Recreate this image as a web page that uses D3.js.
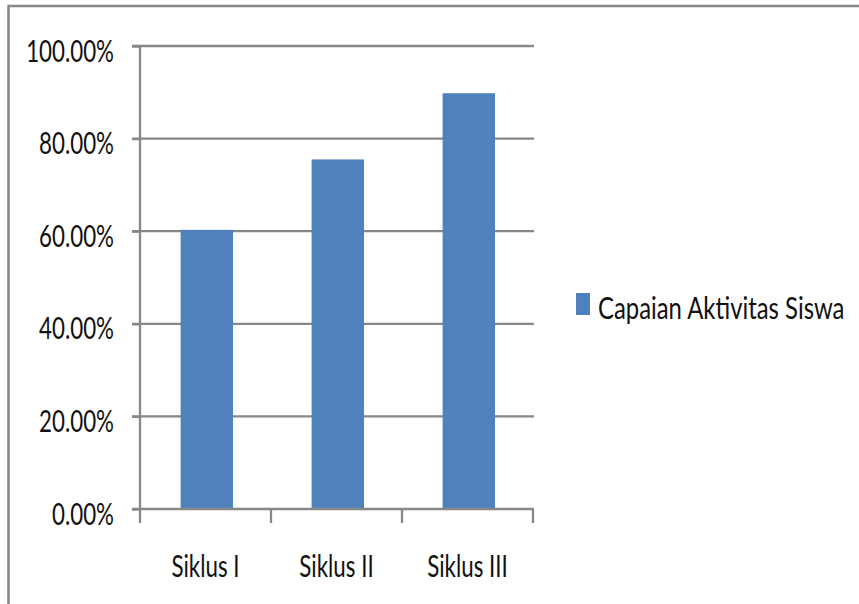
<!DOCTYPE html>
<html>
<head>
<meta charset="utf-8">
<script src="https://cdn.jsdelivr.net/npm/d3@7"></script>
<style>
    body { margin: 0; background: #fff; }
    svg text { font-family: Lato, 'Open Sans', sans-serif; fill: #111; }
</style>
</head>
<body>
<script>
// data
const categories = ['Siklus I', 'Siklus II', 'Siklus III'];
const values = [0.603, 0.755, 0.898];
const seriesName = 'Capaian Aktivitas Siswa';
const yTicks = [0, 0.2, 0.4, 0.6, 0.8, 1.0];

const width = 859, height = 604;
const axisColor = '#878787';
const barColor = '#4f81bd';
const fontSize = 31;
const squeeze = 0.72; // text in the picture is horizontally narrow

let svg = d3.select('body').append('svg')
    .attr('width', width)
    .attr('height', height);

// outer frame (only top and left edges are visible)
svg.append('rect')
    .attr('x', 8.5).attr('y', 6)
    .attr('width', width + 20).attr('height', height + 20)
    .attr('fill', 'none')
    .attr('stroke', axisColor)
    .attr('stroke-width', 2.5);

let X = d3.scaleBand()
    .domain(categories)
    .range([140, 533])
    .padding(0);
let Y = d3.scaleLinear()
    .domain([0, 1])
    .range([509, 46]);

// grid
svg.append('g').attr('class', 'y-grid')
    .selectAll('line').data(yTicks.slice(1)).join('line')
        .attr('x1', 132)
        .attr('x2', 534)
        .attr('y1', d => Y(d))
        .attr('y2', d => Y(d))
        .attr('stroke', axisColor)
        .attr('stroke-width', 2.3);

// bars
svg.append('g').attr('class', 'bars')
    .selectAll('rect').data(categories).join('rect')
        .attr('x', d => X(d) + X.bandwidth() * 0.31)
        .attr('width', X.bandwidth() * 0.4)
        .attr('y', (d, i) => Y(values[i]))
        .attr('height', (d, i) => Y(0) - Y(values[i]))
        .attr('fill', barColor);

// y axis
let yAxis = d3.axisLeft(Y)
    .tickValues(yTicks)
    .tickSize(8)
    .tickFormat(d3.format('.2%'));
let gy = svg.append('g').attr('class', 'y-axis')
    .attr('transform', 'translate(140,0)')
    .call(yAxis);
gy.select('.domain').remove();
gy.append('line')
    .attr('y1', Y(1)).attr('y2', Y(0) + 1)
    .attr('stroke', axisColor).attr('stroke-width', 2.3);
gy.selectAll('.tick line').attr('stroke', axisColor).attr('stroke-width', 2.3);
gy.selectAll('.tick text')
    .attr('x', null).attr('dy', null)
    .attr('font-size', fontSize)
    .attr('text-anchor', 'end')
    .attr('transform', `translate(-26,15) scale(${squeeze},1)`);

// x axis
let xAxis = d3.axisBottom(X).tickSize(0).tickSizeOuter(0);
let gx = svg.append('g').attr('class', 'x-axis')
    .attr('transform', `translate(0,${Y(0)})`)
    .call(xAxis);
gx.select('.domain').remove();
gx.append('line')
    .attr('x1', 132).attr('x2', 534)
    .attr('stroke', axisColor).attr('stroke-width', 2.3);
gx.selectAll('.boundary')
    .data(categories.map(d => X(d)).concat([X.range()[1]]))
    .join('line')
        .attr('class', 'boundary')
        .attr('x1', d => d).attr('x2', d => d)
        .attr('y1', 0).attr('y2', 14)
        .attr('stroke', axisColor).attr('stroke-width', 2.3);
gx.selectAll('.tick text')
    .attr('y', null).attr('dy', null)
    .attr('font-size', fontSize)
    .attr('text-anchor', 'middle')
    .attr('transform', `translate(0,67.5) scale(${squeeze},1)`);

// legend
let legend = svg.append('g').attr('class', 'legend')
    .attr('transform', 'translate(576,293)');
legend.append('rect')
    .attr('width', 14).attr('height', 22)
    .attr('fill', barColor);
legend.append('text')
    .attr('font-size', fontSize)
    .attr('transform', `translate(22,26) scale(0.77,1)`)
    .text(seriesName);
</script>
</body>
</html>
